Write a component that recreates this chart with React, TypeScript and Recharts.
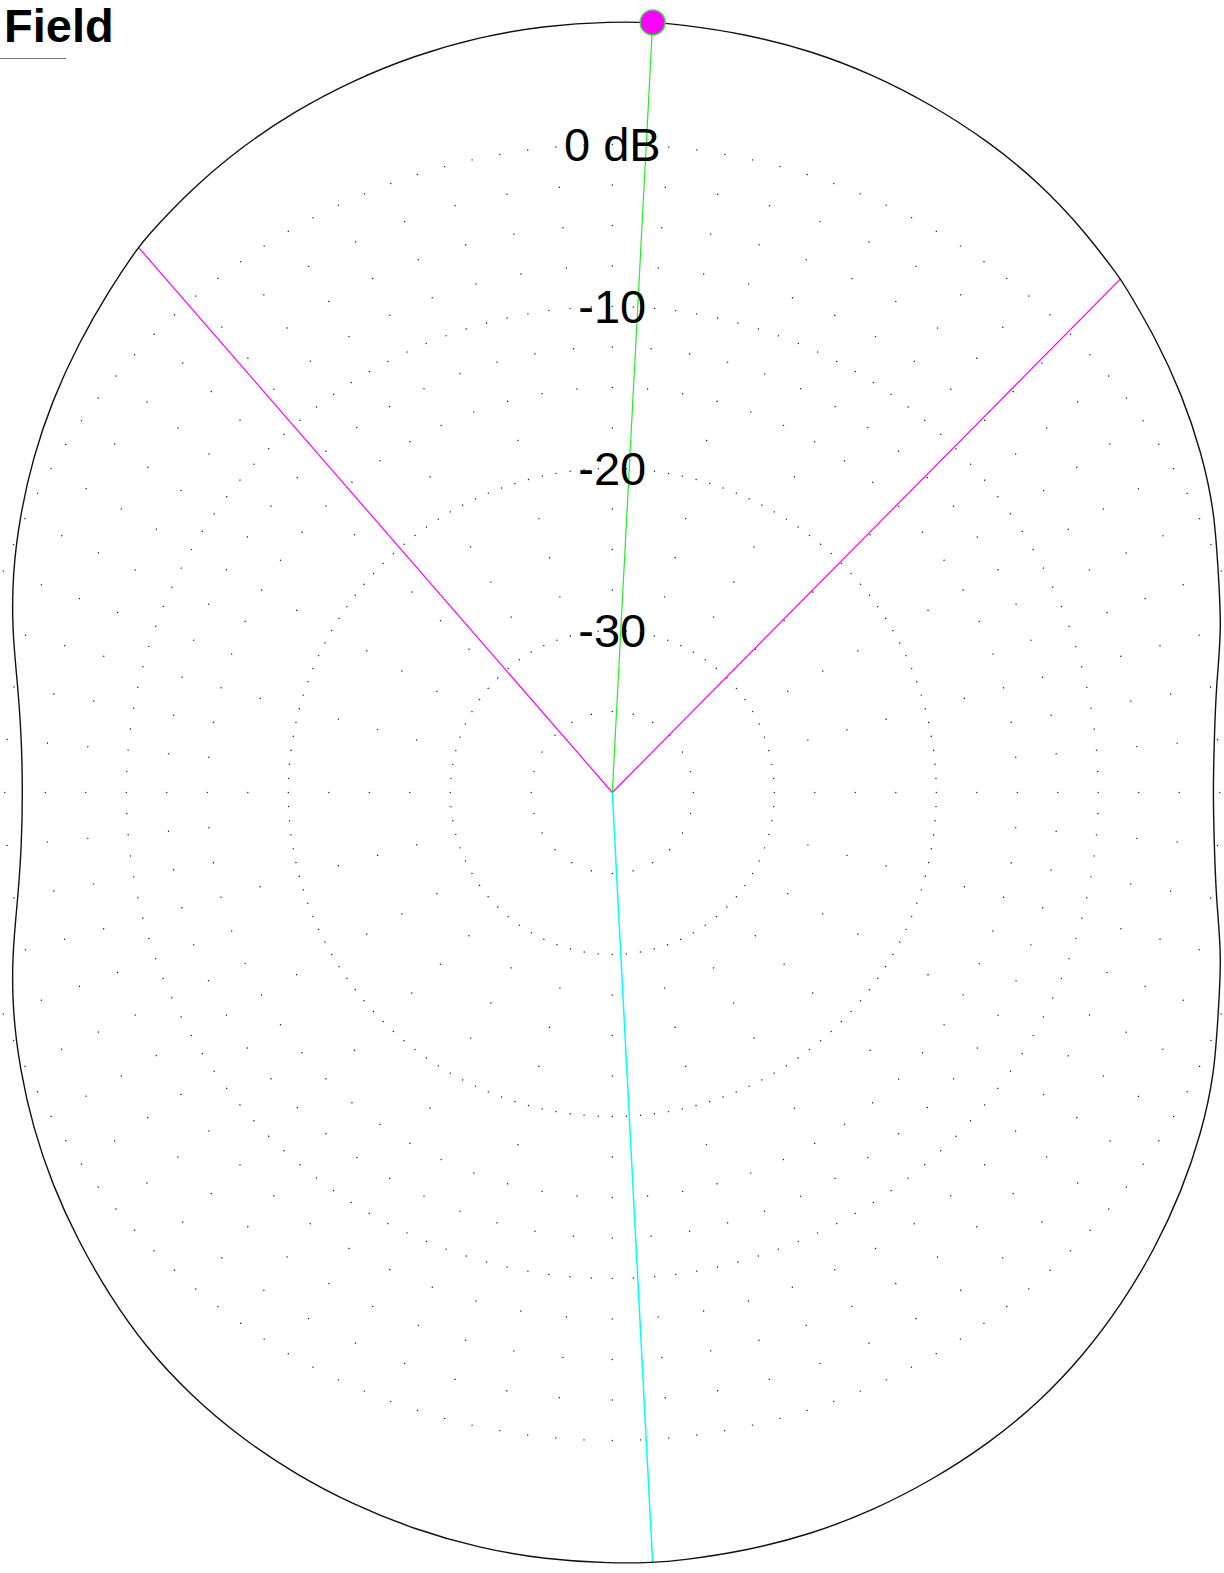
import React from 'react';
import { RadarChart, Radar, PolarGrid, PolarAngleAxis, PolarRadiusAxis, Curve } from 'recharts';

// Bearing in degrees, clockwise from the top
const patternAngles = [
  0, 3, 5, 10, 15, 20, 25, 30, 35, 40, 44.7, 45, 50, 55, 60, 65, 70, 75, 80, 85, 90,
  95, 100, 105, 110, 115, 120, 125, 130, 135, 140, 145, 150, 155, 160, 165, 170, 175, 177, 180,
  185, 190, 195, 200, 205, 210, 215, 220, 225, 230, 235, 240, 245, 250, 255, 260, 265, 270,
  275, 280, 285, 290, 295, 300, 305, 310, 315, 319, 320, 325, 330, 335, 340, 345, 350, 355,
];
// Field strength in dB
const patternDb = [
  7.59, 7.6, 7.6, 7.54, 7.4, 7.15, 6.8, 6.42, 5.95, 5.3, 4.6, 4.55, 3.75, 2.9, 2.0, 1.02, -0.2, -1.05, -2.15, -2.7, -2.92,
  -2.7, -2.15, -1.05, -0.2, 1.02, 2.0, 2.9, 3.75, 4.55, 5.3, 5.95, 6.42, 6.8, 7.15, 7.4, 7.54, 7.6, 7.6, 7.59,
  7.52, 7.36, 7.1, 6.78, 6.4, 5.95, 5.4, 4.75, 3.9, 3.05, 2.2, 1.3, 0.35, -0.6, -1.65, -2.75, -3.4, -3.6,
  -3.4, -2.75, -1.65, -0.6, 0.35, 1.3, 2.2, 3.05, 3.9, 4.6, 4.75, 5.4, 5.95, 6.4, 6.78, 7.1, 7.36, 7.52,
];

const maxAngle = 3;
const backAngle = 177;
const halfPowerAngles = [44.7, 319];

const scaleMin = -40;
const scaleMax = 10;
const labelTicks = [-30, -20, -10, 0];
const rings25 = [-20, -10, 0]; // dots every 2.5 deg
const rings5 = [-30, -15, -12.5, -7.5, -5, -2.5]; // dots every 5 deg
const rings15 = [-35, -27.5, -25, -22.5, -17.5]; // dots every 15 deg

const data = patternAngles.map((angle, i) => ({
  angle,
  pattern: patternDb[i],
  green: angle === maxAngle ? patternDb[i] : scaleMin,
  cyan: angle === backAngle ? patternDb[i] : scaleMin,
  magenta: halfPowerAngles.includes(angle) ? patternDb[i] : scaleMin,
}));

const FONT = '"Liberation Sans", Arial, Helvetica, sans-serif';

const renderLabel = (props: any) => {
  const { x, y, payload } = props;
  const v = payload.value;
  return (
    <text x={x} y={y} textAnchor="middle" dominantBaseline="central" fontSize={47} fontFamily={FONT} fill="#000">
      {v === 0 ? '0 dB' : String(v)}
    </text>
  );
};

const renderMaxDot = (props: any) => {
  const { cx, cy, payload, index } = props;
  if (payload && payload.angle === maxAngle) {
    return <circle key={`d${index}`} cx={cx} cy={cy} r={12.5} fill="#ff00ff" stroke="#44dd44" strokeWidth={1.5} />;
  }
  return <g key={`d${index}`} />;
};

const renderPatternShape = (props: any) => (
  <Curve points={props.points} type="basisClosed" stroke="#111" strokeWidth={1.4} fill="none" />
);

export default function App() {
  const dotGrid = { stroke: '#222', strokeWidth: 1.4, strokeDasharray: '0.001 0.999', strokeLinecap: 'round' as const };
  const ringAxis = { type: 'number' as const, domain: [scaleMin, scaleMax], allowDataOverflow: true, tick: false, axisLine: false, tickLine: false };
  return (
    <div style={{ position: 'absolute', left: 0, top: 0, width: 1224, height: 1573, background: '#fff' }}>
      <RadarChart
        width={1224}
        height={1573}
        data={data}
        cx={612.3}
        cy={792.5}
        innerRadius={0}
        outerRadius={810}
        startAngle={90}
        endAngle={-270}
        margin={{ top: 0, right: 0, bottom: 0, left: 0 }}
      >
        <PolarAngleAxis dataKey="angle" type="number" domain={[0, 360]} allowDataOverflow tick={false} axisLine={false} tickLine={false} />
        <PolarRadiusAxis radiusAxisId="r25" {...ringAxis} ticks={rings25} />
        <PolarRadiusAxis radiusAxisId="r5" {...ringAxis} ticks={rings5} />
        <PolarRadiusAxis radiusAxisId="r15" {...ringAxis} ticks={rings15} />
        <PolarGrid gridType="circle" radialLines={false} radiusAxisId="r25" {...dotGrid} pathLength={144} />
        <PolarGrid gridType="circle" radialLines={false} radiusAxisId="r5" {...dotGrid} pathLength={72} />
        <PolarGrid gridType="circle" radialLines={false} radiusAxisId="r15" {...dotGrid} pathLength={24} />
        <PolarRadiusAxis angle={90} type="number" domain={[scaleMin, scaleMax]} allowDataOverflow ticks={labelTicks} tick={renderLabel} axisLine={false} tickLine={false} />
        <Radar dataKey="magenta" stroke="#ff00ff" strokeWidth={1.2} fill="none" fillOpacity={0} isAnimationActive={false} dot={false} />
        <Radar dataKey="cyan" stroke="#00ffff" strokeWidth={1.5} fill="none" fillOpacity={0} isAnimationActive={false} dot={false} />
        <Radar dataKey="green" stroke="#22ee22" strokeWidth={1.2} fill="none" fillOpacity={0} isAnimationActive={false} dot={false} />
        <Radar dataKey="pattern" stroke="#111" strokeWidth={1.4} fill="none" fillOpacity={0} isAnimationActive={false} shape={renderPatternShape} dot={renderMaxDot} />
      </RadarChart>
      <div style={{ position: 'absolute', left: 4, top: 0, fontFamily: FONT, fontWeight: 'bold', fontSize: 47, lineHeight: '52px', color: '#000' }}>
        Field
      </div>
      <div style={{ position: 'absolute', left: 0, top: 58, width: 66, height: 1, background: '#777' }} />
    </div>
  );
}
